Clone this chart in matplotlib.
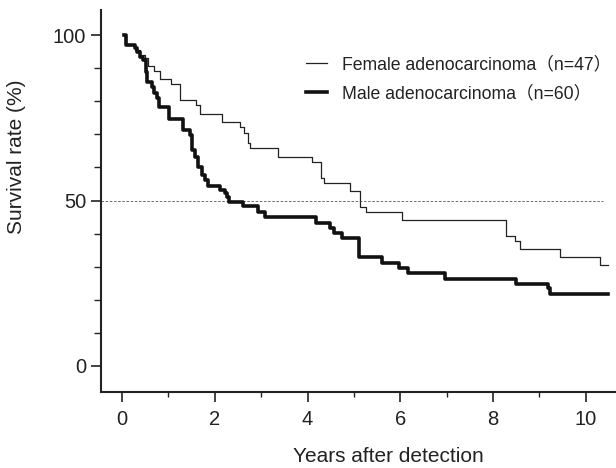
import matplotlib
matplotlib.use('Agg')
import matplotlib.pyplot as plt
from matplotlib.ticker import MultipleLocator

plt.rcParams['font.family'] = ['Liberation Sans', 'Noto Sans CJK JP']

# Kaplan-Meier steps: time (years) and survival (%) after each step
female_t = [0.05, 0.09, 0.28, 0.39, 0.50, 0.56, 0.70, 0.81, 1.06, 1.26, 1.59, 1.69,
            2.15, 2.55, 2.64, 2.71, 2.77, 3.36, 4.10, 4.30, 4.36, 4.91, 5.13, 5.26,
            6.03, 8.27, 8.47, 8.58, 9.44, 10.30, 10.47]
female_s = [100, 97.0, 95.5, 94.0, 93.2, 90.7, 89.2, 86.7, 85.2, 80.4, 78.9, 76.3,
            73.8, 72.1, 70.3, 67.3, 65.8, 63.3, 61.7, 56.7, 55.4, 53.0, 48.1, 46.4,
            44.1, 39.3, 37.8, 35.2, 32.8, 30.4, 30.4]

male_t = [0.05, 0.09, 0.28, 0.32, 0.39, 0.46, 0.52, 0.54, 0.64, 0.70, 0.75, 0.80,
          1.02, 1.32, 1.47, 1.50, 1.57, 1.64, 1.72, 1.79, 1.86, 2.11, 2.22, 2.27,
          2.31, 2.61, 2.94, 3.08, 4.19, 4.49, 4.58, 4.75, 5.11, 5.61, 5.97, 6.17,
          6.96, 8.50, 9.19, 9.23, 10.47]
male_s = [100, 97.0, 96.0, 95.0, 93.4, 92.4, 89.0, 85.9, 84.4, 82.4, 80.9, 78.2,
          74.6, 71.3, 69.8, 65.3, 63.2, 60.2, 57.7, 56.2, 54.4, 53.2, 52.2, 51.2,
          49.6, 48.3, 46.6, 45.1, 43.3, 41.8, 40.1, 38.8, 32.8, 31.2, 29.5, 28.0,
          26.3, 24.8, 23.5, 21.7, 21.7]

female_label = 'Female adenocarcinoma（n=47）'
male_label = 'Male adenocarcinoma（n=60）'

fig = plt.figure(figsize=(6.16, 4.68), dpi=100)
ax = fig.add_axes([100.7 / 616, 1 - 392 / 468, 514.3 / 616, 382 / 468])

xmin, xmax = -0.46, 10.63
ax.hlines(50, xmin, 10.37, colors='#555555', linewidth=0.6, linestyles=(0, (3, 2)))
ax.step(female_t, female_s, where='post', color='#222222', linewidth=0.9, label=female_label)
ax.step(male_t, male_s, where='post', color='#111111', linewidth=2.6, label=male_label)

ax.set_xlim(xmin, xmax)
ax.set_ylim(-7.9, 107.6)
ax.set_xticks([0, 2, 4, 6, 8, 10])
ax.xaxis.set_minor_locator(MultipleLocator(1))
ax.set_yticks([0, 50, 100])
ax.yaxis.set_minor_locator(MultipleLocator(10))

for side in ['top', 'right']:
    ax.spines[side].set_visible(False)
for side in ['left', 'bottom']:
    ax.spines[side].set_linewidth(1.5)
    ax.spines[side].set_color('#222222')

ax.tick_params(axis='x', which='major', length=7, width=1.2, pad=6, labelsize=14.5, color='#222222')
ax.tick_params(axis='x', which='minor', length=3.5, width=1.0, color='#222222')
ax.tick_params(axis='y', which='major', length=7, width=1.2, pad=3.5, labelsize=14.5, color='#222222')
ax.tick_params(axis='y', which='minor', length=5, width=1.0, color='#222222')
for lab in ax.get_xticklabels() + ax.get_yticklabels():
    lab.set_color('#222222')

fig.text(388 / 616, 1 - 457 / 468, 'Years after detection', ha='center', va='center',
         fontsize=15, color='#222222')
fig.text(17 / 616, 1 - 157 / 468, 'Survival rate (%)', ha='center', va='center',
         rotation=90, fontsize=15, color='#222222')

ax.legend(loc='upper left', bbox_to_anchor=(306 / 616, 1 - 56 / 468),
          bbox_transform=fig.transFigure, frameon=False, fontsize=12.7,
          handlelength=1.2, handletextpad=0.85, labelspacing=0.7,
          borderpad=0, borderaxespad=0, labelcolor='#222222')

fig.savefig('out.png', dpi=100)
